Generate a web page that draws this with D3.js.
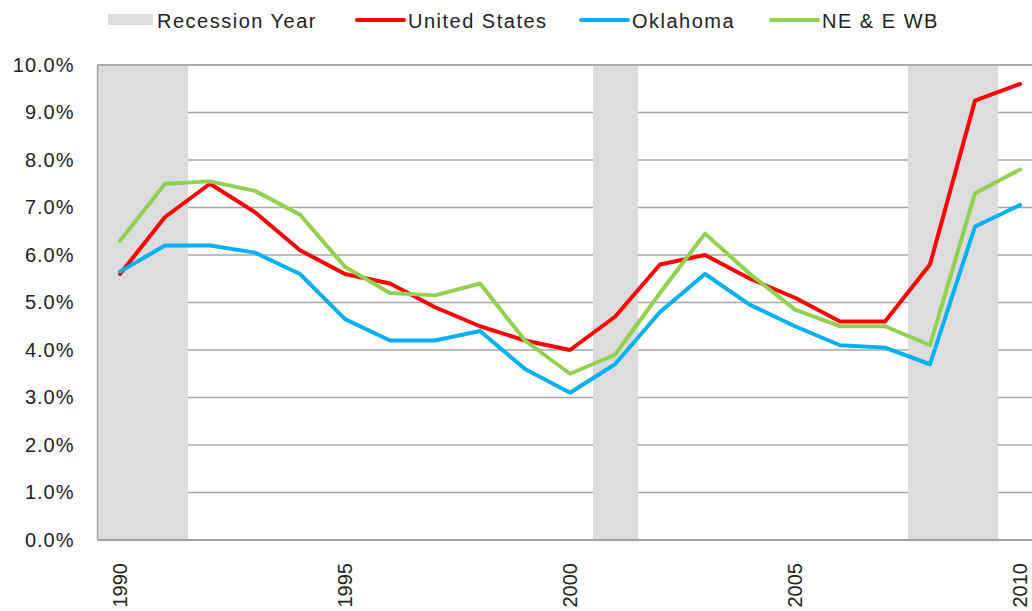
<!DOCTYPE html>
<html>
<head>
<meta charset="utf-8">
<script src="https://cdn.jsdelivr.net/npm/d3@7"></script>
<style>
  body { margin: 0; background: #fff; }
  svg { display: block; font-family: "Liberation Sans", Arial, sans-serif; }
</style>
</head>
<body>
<svg id="chart" width="1032" height="611"></svg>
<script>
const years = d3.range(1990, 2011);
const recessionYears = [1990, 1991, 2001, 2008, 2009];
const unitedStates = [5.6, 6.8, 7.5, 6.9, 6.1, 5.6, 5.4, 4.9, 4.5, 4.2, 4.0, 4.7, 5.8, 6.0, 5.5, 5.1, 4.6, 4.6, 5.8, 9.25, 9.6];
const oklahoma = [5.65, 6.2, 6.2, 6.05, 5.6, 4.65, 4.2, 4.2, 4.4, 3.6, 3.1, 3.7, 4.8, 5.6, 4.95, 4.5, 4.1, 4.05, 3.7, 6.6, 7.05];
const neEWb = [6.3, 7.5, 7.55, 7.35, 6.85, 5.75, 5.2, 5.15, 5.4, 4.2, 3.5, 3.9, 5.2, 6.45, 5.6, 4.85, 4.5, 4.5, 4.1, 7.3, 7.8];
const yTicks = [0, 1, 2, 3, 4, 5, 6, 7, 8, 9, 10];
const xTickYears = [1990, 1995, 2000, 2005, 2010];

const series = [
  { name: 'United States', values: unitedStates, color: '#ff0000' },
  { name: 'Oklahoma', values: oklahoma, color: '#00b0f0' },
  { name: 'NE & E WB', values: neEWb, color: '#92d050' }
];

const plotLeft = 97.5, plotRight = 1042.5, plotTop = 65, plotBottom = 540;
const svg = d3.select('#chart');

const x = d3.scaleBand().domain(years).range([plotLeft, plotRight]).padding(0);
const y = d3.scaleLinear().domain([0, 10]).range([plotBottom, plotTop]);
const cx = d => x(d) + x.bandwidth() / 2;

// gridlines
svg.append('g')
  .selectAll('line')
  .data(yTicks)
  .join('line')
  .attr('x1', plotLeft).attr('x2', plotRight)
  .attr('y1', d => y(d)).attr('y2', d => y(d))
  .attr('stroke', '#a6a6a6')
  .attr('stroke-width', 1.5);

// recession bands
svg.append('g')
  .attr('shape-rendering', 'crispEdges')
  .selectAll('rect')
  .data(recessionYears)
  .join('rect')
  .attr('x', d => x(d))
  .attr('width', x.bandwidth() + 0.5)
  .attr('y', y(10) + 1)
  .attr('height', y(0) - y(10) - 1)
  .attr('fill', '#dcdcdc');

// frame
svg.append('line').attr('x1', plotLeft).attr('x2', plotLeft).attr('y1', plotTop).attr('y2', plotBottom)
  .attr('stroke', '#a6a6a6').attr('stroke-width', 1.5);
svg.append('line').attr('x1', plotLeft).attr('x2', plotRight).attr('y1', plotTop).attr('y2', plotTop)
  .attr('stroke', '#a6a6a6').attr('stroke-width', 1.5);
svg.append('line').attr('x1', plotLeft).attr('x2', plotRight).attr('y1', plotBottom).attr('y2', plotBottom)
  .attr('stroke', '#a0a0a0').attr('stroke-width', 2);

// y axis
const yAxis = svg.append('g')
  .attr('transform', `translate(${plotLeft},0)`)
  .call(d3.axisLeft(y).tickValues(yTicks).tickSize(0).tickPadding(23).tickFormat(d => d.toFixed(1) + '%'));
yAxis.select('.domain').remove();
yAxis.selectAll('text').attr('font-size', 20).attr('fill', '#222')
  .attr('letter-spacing', '1px')
  .attr('font-family', '"Liberation Sans", Arial, sans-serif');

// x axis
const xAxis = svg.append('g')
  .attr('transform', `translate(0,${plotBottom})`)
  .call(d3.axisBottom(x).tickValues(xTickYears).tickSize(0).tickFormat(d3.format('d')));
xAxis.select('.domain').remove();
xAxis.selectAll('text')
  .attr('font-size', 20).attr('fill', '#222').attr('font-family', '"Liberation Sans", Arial, sans-serif')
  .attr('text-anchor', 'end')
  .attr('transform', 'rotate(-90)')
  .attr('x', -23).attr('y', 0).attr('dy', '0.35em');

// lines
const line = d3.line().x((d, i) => cx(years[i])).y(d => y(d));
svg.append('g')
  .selectAll('path')
  .data(series)
  .join('path')
  .attr('d', d => line(d.values))
  .attr('fill', 'none')
  .attr('stroke', d => d.color)
  .attr('stroke-width', 4)
  .attr('stroke-linejoin', 'round')
  .attr('stroke-linecap', 'round');

// legend
const legend = svg.append('g').attr('font-size', 20).attr('fill', '#222').attr('letter-spacing', '1.5px');
legend.append('rect').attr('x', 108).attr('y', 14).attr('width', 45).attr('height', 11).attr('fill', '#dcdcdc');
legend.append('text').attr('x', 157).attr('y', 28).text('Recession Year');
const legendPos = [356, 580, 770];
series.forEach((s, i) => {
  legend.append('line')
    .attr('x1', legendPos[i] + 1).attr('x2', legendPos[i] + 48)
    .attr('y1', 20).attr('y2', 20)
    .attr('stroke', s.color).attr('stroke-width', 4).attr('stroke-linecap', 'round');
  legend.append('text').attr('x', legendPos[i] + 52).attr('y', 28).text(s.name);
});
</script>
</body>
</html>
